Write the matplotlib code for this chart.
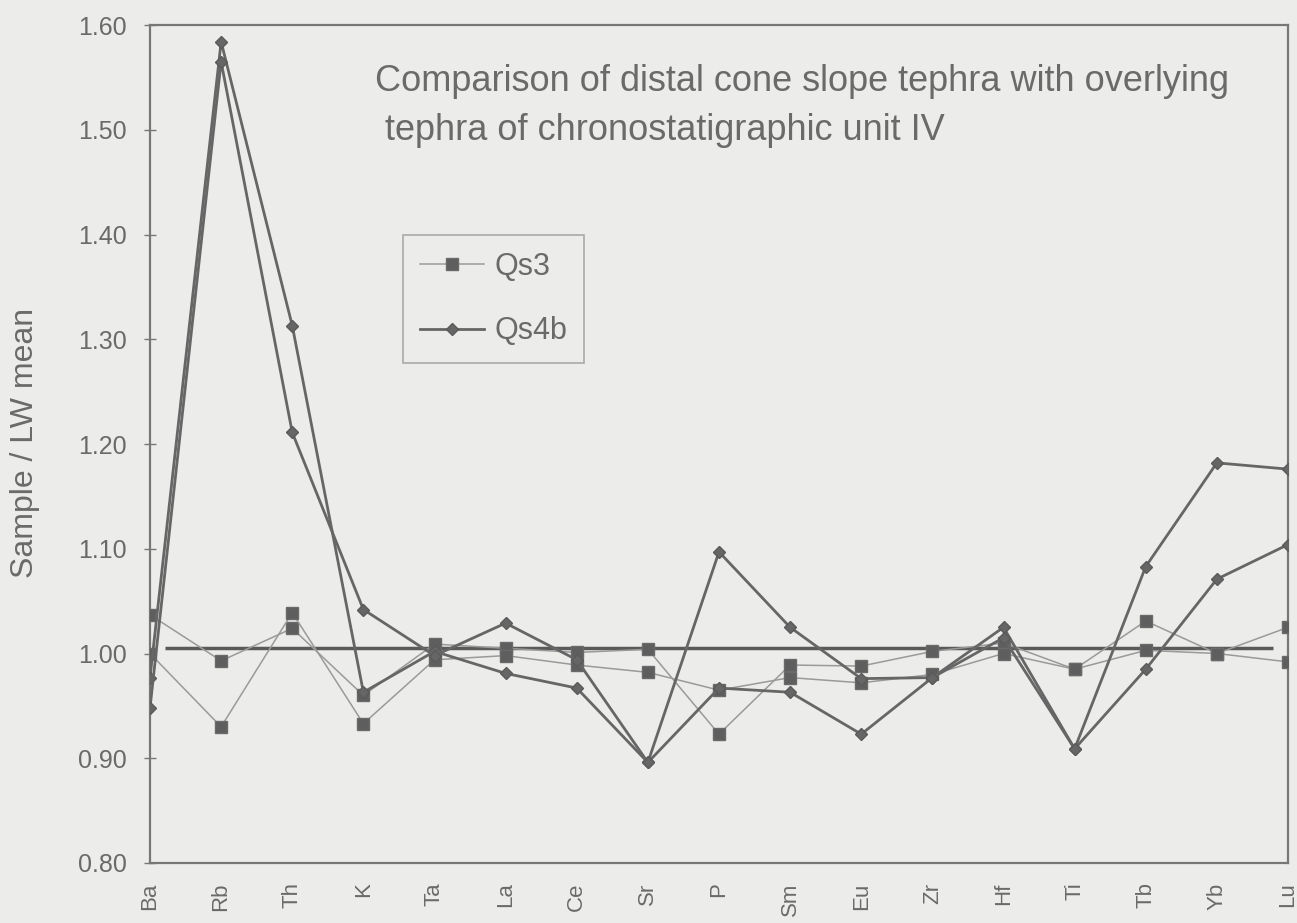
import numpy as np
import matplotlib.pyplot as plt

plt.rcParams['font.family'] = ['Liberation Sans', 'DejaVu Sans']

elements = ['Ba', 'Rb', 'Th', 'K', 'Ta', 'La', 'Ce', 'Sr', 'P', 'Sm',
            'Eu', 'Zr', 'Hf', 'Ti', 'Tb', 'Yb', 'Lu']

# Qs3 (two analyses)
qs3_a = [1.037, 0.993, 1.024, 0.960, 1.009, 1.005, 1.001, 1.004, 0.923, 0.989,
         0.988, 1.002, 1.010, 0.985, 1.031, 1.000, 0.992]
qs3_b = [1.000, 0.930, 1.039, 0.933, 0.994, 0.998, 0.989, 0.982, 0.965, 0.977,
         0.972, 0.980, 1.000, 0.985, 1.003, 1.000, 1.025]

# Qs4b (two analyses)
qs4b_a = [0.977, 1.584, 1.313, 0.963, 1.002, 0.981, 0.967, 0.896, 1.097, 1.025,
          0.976, 0.977, 1.025, 0.909, 1.083, 1.182, 1.176]
qs4b_b = [0.948, 1.565, 1.211, 1.042, 0.998, 1.029, 0.994, 0.896, 0.967, 0.963,
          0.923, 0.977, 1.015, 0.909, 0.985, 1.071, 1.104]

ref_level = 1.005

bg = '#ececea'
txt = '#6a6a6a'

x = np.arange(len(elements))

fig = plt.figure(figsize=(12.97, 9.23), dpi=100, facecolor=bg)
ax = fig.add_axes([150/1297, 1 - 863/923, 1138/1297, 838/923], facecolor=bg)

ax.hlines(ref_level, 0.21, 15.79, color='#5a5a5a', lw=2.5, zorder=2)

sq = dict(color='#9a9a9a', lw=1.1, marker='s', markersize=8.5,
          markerfacecolor='#5e5e5e', markeredgecolor='#6a6a6a', zorder=3)
dm = dict(color='#666666', lw=2.0, marker='D', markersize=6.5,
          markerfacecolor='#666666', markeredgecolor='#5a5a5a', zorder=4)

ax.plot(x, qs3_a, label='Qs3', **sq)
ax.plot(x, qs3_b, **sq)
ax.plot(x, qs4b_a, label='Qs4b', **dm)
ax.plot(x, qs4b_b, **dm)

ax.set_xlim(0, 16)
ax.set_ylim(0.8, 1.6)
ax.set_yticks(np.arange(0.8, 1.61, 0.1))
ax.set_yticklabels(['%.2f' % v for v in np.arange(0.8, 1.61, 0.1)])
ax.set_xticks(x)
ax.set_xticklabels(elements, rotation=90)
ax.tick_params(axis='x', length=0, pad=14, labelsize=16, labelcolor=txt)
ax.tick_params(axis='y', direction='inout', length=9, width=1, color='#777777',
               pad=12, labelsize=18, labelcolor=txt)

for s in ax.spines.values():
    s.set_color('#777777')
    s.set_linewidth(1.6)

fig.text(25/1297, 1 - 443/923, 'Sample / LW mean', rotation=90, fontsize=23,
         color=txt, ha='center', va='center')

fig.text(375/1297, 1 - 106/923,
         'Comparison of distal cone slope tephra with overlying\n tephra of chronostatigraphic unit IV',
         fontsize=26, color=txt, ha='left', va='center', linespacing=1.5)

leg = ax.legend(loc='upper left', bbox_to_anchor=(403/1297, 1 - 235/923),
                bbox_transform=fig.transFigure, fontsize=22, frameon=True,
                fancybox=False, handlelength=2.1, handletextpad=0.35,
                labelspacing=1.13, borderpad=0.55, borderaxespad=0)
leg.get_frame().set_facecolor(bg)
leg.get_frame().set_edgecolor('#999999')
leg.get_frame().set_linewidth(1.2)
for t in leg.get_texts():
    t.set_color(txt)

fig.savefig('out.png', dpi=100, facecolor=bg)
